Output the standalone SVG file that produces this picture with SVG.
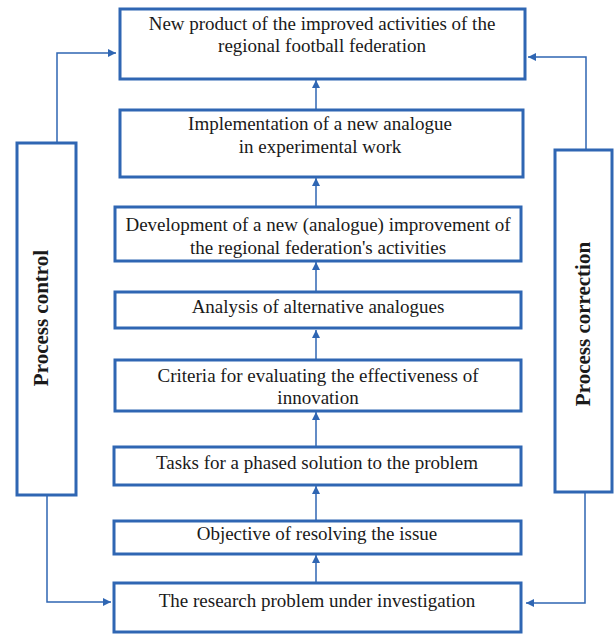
<svg xmlns="http://www.w3.org/2000/svg" width="615" height="634" viewBox="0 0 615 634">
  <style>
    .box { fill: #ffffff; stroke: #2f66b3; stroke-width: 3; }
    .lbl { font-family: "Liberation Serif", "Times New Roman", serif; font-size: 19px; fill: #1a1a1a; text-anchor: middle; }
    .side { font-family: "Liberation Serif", "Times New Roman", serif; font-size: 21px; font-weight: bold; fill: #1a1a1a; text-anchor: middle; }
    .conn { fill: none; stroke: #2f66b3; stroke-width: 1.5; }
  </style>
  <defs>
    <marker id="arrowS" viewBox="0 0 10 10" refX="10" refY="5" markerWidth="9" markerHeight="8" markerUnits="userSpaceOnUse" orient="auto">
      <path d="M0,0 L10,5 L0,10 z" fill="#2f66b3"/>
    </marker>
  </defs>

  <!-- connectors -->
  <g id="connectors">
    <line class="conn" x1="316" y1="110" x2="316" y2="80" marker-end="url(#arrowS)"/>
    <line class="conn" x1="316" y1="207" x2="316" y2="178" marker-end="url(#arrowS)"/>
    <line class="conn" x1="316" y1="292" x2="316" y2="262" marker-end="url(#arrowS)"/>
    <line class="conn" x1="316" y1="360" x2="316" y2="330" marker-end="url(#arrowS)"/>
    <line class="conn" x1="316" y1="447" x2="316" y2="412" marker-end="url(#arrowS)"/>
    <line class="conn" x1="316" y1="521" x2="316" y2="486" marker-end="url(#arrowS)"/>
    <line class="conn" x1="316" y1="583" x2="316" y2="555" marker-end="url(#arrowS)"/>
    <!-- process control loop -->
    <path class="conn" d="M57,143 V53 H116" marker-end="url(#arrowS)"/>
    <path class="conn" d="M47,495 V602 H111" marker-end="url(#arrowS)"/>
    <!-- process correction loop -->
    <path class="conn" d="M586,150 V57 H528" marker-end="url(#arrowS)"/>
    <path class="conn" d="M585,492 V603 H526" marker-end="url(#arrowS)"/>
  </g>

  <g id="n-product">
    <rect class="box" x="120" y="9" width="405" height="70"/>
    <text class="lbl" x="322" y="30">New product of the improved activities of the</text>
    <text class="lbl" x="322" y="52">regional football federation</text>
  </g>
  <g id="n-implementation">
    <rect class="box" x="120" y="110" width="403" height="67"/>
    <text class="lbl" x="320" y="130">Implementation of a new analogue</text>
    <text class="lbl" x="320" y="153">in experimental work</text>
  </g>
  <g id="n-development">
    <rect class="box" x="115" y="207" width="406" height="54"/>
    <text class="lbl" x="318" y="231">Development of a new (analogue) improvement of</text>
    <text class="lbl" x="318" y="254">the regional federation's activities</text>
  </g>
  <g id="n-analysis">
    <rect class="box" x="115" y="292" width="406" height="36"/>
    <text class="lbl" x="318" y="313">Analysis of alternative analogues</text>
  </g>
  <g id="n-criteria">
    <rect class="box" x="115" y="360" width="406" height="51"/>
    <text class="lbl" x="318" y="382">Criteria for evaluating the effectiveness of</text>
    <text class="lbl" x="318" y="404">innovation</text>
  </g>
  <g id="n-tasks">
    <rect class="box" x="114" y="447" width="407" height="38"/>
    <text class="lbl" x="317" y="469">Tasks for a phased solution to the problem</text>
  </g>
  <g id="n-objective">
    <rect class="box" x="114" y="521" width="407" height="33"/>
    <text class="lbl" x="317" y="540">Objective of resolving the issue</text>
  </g>
  <g id="n-research">
    <rect class="box" x="114" y="583" width="407" height="49"/>
    <text class="lbl" x="317" y="607">The research problem under investigation</text>
  </g>

  <g id="n-control">
    <rect class="box" x="17" y="143" width="59" height="352"/>
    <text class="side" transform="translate(48,318) rotate(-90)">Process control</text>
  </g>
  <g id="n-correction">
    <rect class="box" x="555" y="150" width="57" height="342"/>
    <text class="side" transform="translate(590,324) rotate(-90)">Process correction</text>
  </g>
</svg>
